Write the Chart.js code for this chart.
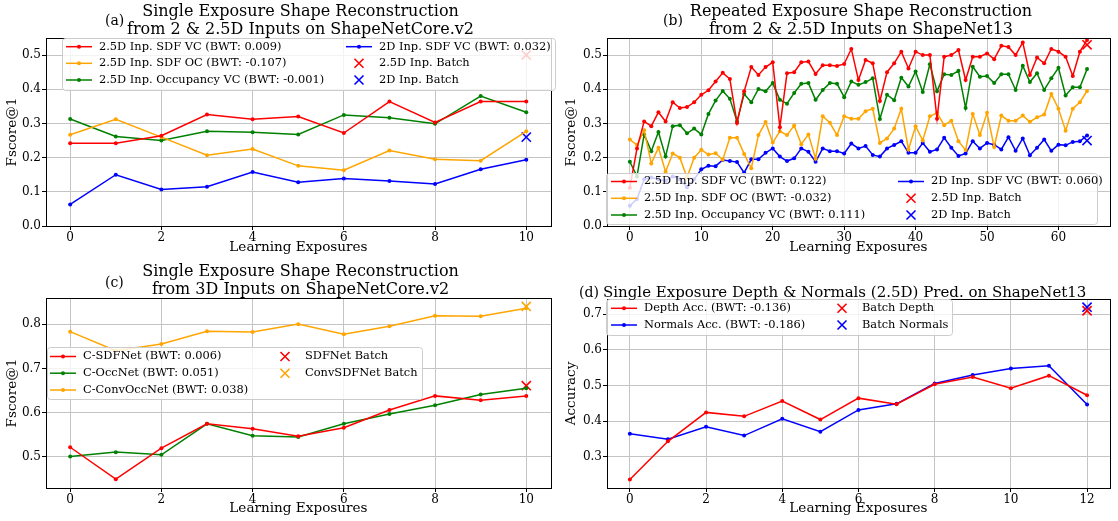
<!DOCTYPE html>
<html>
<head>
<meta charset="utf-8">
<script src="https://cdn.jsdelivr.net/npm/chart.js@4.4.1/dist/chart.umd.min.js"></script>
<style>
  body { margin: 0; background: #fff; width: 1118px; height: 521px; position: relative; overflow: hidden; font-family: "DejaVu Serif", serif; }
  canvas { position: absolute; }
  .t { position: absolute; font-size: 16px; line-height: 18px; text-align: center; color: #000; white-space: nowrap; }
  .p { position: absolute; font-size: 14px; line-height: 16px; color: #000; white-space: nowrap; }
</style>
</head>
<body>
<canvas id="ca" width="559" height="260" style="left:0;top:0"></canvas>
<canvas id="cb" width="559" height="260" style="left:559px;top:0"></canvas>
<canvas id="cc" width="559" height="261" style="left:0;top:260px"></canvas>
<canvas id="cd" width="559" height="261" style="left:559px;top:260px"></canvas>

<div class="t" style="left:0;width:601px;top:2px">Single Exposure Shape Reconstruction<br>from 2 &amp; 2.5D Inputs on ShapeNetCore.v2</div>
<div class="p" style="left:105px;top:12px">(a)</div>
<div class="t" style="left:561px;width:600px;top:2px">Repeated Exposure Shape Reconstruction<br>from 2 &amp; 2.5D Inputs on ShapeNet13</div>
<div class="p" style="left:663px;top:12px">(b)</div>
<div class="t" style="left:0;width:601px;top:262px">Single Exposure Shape Reconstruction<br>from 3D Inputs on ShapeNetCore.v2</div>
<div class="p" style="left:105px;top:274px">(c)</div>
<div class="t" style="left:603px;top:283px;font-size:15px;text-align:left">Single Exposure Depth &amp; Normals (2.5D) Pred. on ShapeNet13</div>
<div class="p" style="left:579px;top:284px">(d)</div>

<script>
// (a) single exposure, 2 & 2.5D inputs
const exposuresA = [0, 1, 2, 3, 4, 5, 6, 7, 8, 9, 10];
const a25SdfVc = [0.242, 0.242, 0.264, 0.326, 0.312, 0.320, 0.272, 0.364, 0.303, 0.364, 0.364];
const a25SdfOc = [0.267, 0.312, 0.260, 0.207, 0.225, 0.176, 0.163, 0.221, 0.195, 0.191, 0.277];
const a25OccVc = [0.313, 0.262, 0.250, 0.277, 0.274, 0.268, 0.325, 0.317, 0.299, 0.380, 0.333];
const a2dSdfVc = [0.063, 0.150, 0.107, 0.115, 0.158, 0.128, 0.139, 0.132, 0.123, 0.166, 0.194];
const aBatch25 = 0.50;
const aBatch2d = 0.26;
const xTicksA = [0, 2, 4, 6, 8, 10];
const yTicksA = [0.0, 0.1, 0.2, 0.3, 0.4, 0.5];

// (b) repeated exposure, ShapeNet13
const exposuresB = [0, 1, 2, 3, 4, 5, 6, 7, 8, 9, 10, 11, 12, 13, 14, 15, 16, 17, 18, 19, 20, 21, 22, 23, 24, 25, 26, 27, 28, 29, 30, 31, 32,
  33, 34, 35, 36, 37, 38, 39, 40, 41, 42, 43, 44, 45, 46, 47, 48, 49, 50, 51, 52, 53, 54, 55, 56, 57, 58, 59, 60, 61, 62, 63, 64];
const b25SdfVc = [0.112, 0.227, 0.306, 0.292, 0.333, 0.306, 0.362, 0.345, 0.348, 0.362,
  0.384, 0.397, 0.423, 0.448, 0.430, 0.301, 0.394, 0.465, 0.442, 0.465,
  0.479, 0.289, 0.447, 0.450, 0.479, 0.481, 0.445, 0.470, 0.470, 0.468,
  0.474, 0.518, 0.427, 0.486, 0.476, 0.366, 0.450, 0.476, 0.510, 0.461,
  0.510, 0.500, 0.500, 0.314, 0.495, 0.500, 0.515, 0.427, 0.495, 0.495,
  0.505, 0.488, 0.527, 0.524, 0.500, 0.537, 0.442, 0.493, 0.476, 0.518,
  0.510, 0.495, 0.439, 0.510, 0.544];
const b25SdfOc = [0.253, 0.237, 0.280, 0.183, 0.229, 0.159, 0.212, 0.200, 0.142, 0.200,
  0.223, 0.209, 0.213, 0.194, 0.258, 0.258, 0.211, 0.169, 0.266, 0.304,
  0.244, 0.277, 0.266, 0.294, 0.239, 0.268, 0.197, 0.321, 0.302, 0.266,
  0.321, 0.314, 0.314, 0.336, 0.343, 0.243, 0.256, 0.285, 0.343, 0.224,
  0.292, 0.250, 0.321, 0.331, 0.295, 0.308, 0.248, 0.222, 0.328, 0.266,
  0.331, 0.231, 0.323, 0.308, 0.308, 0.323, 0.305, 0.318, 0.326, 0.386,
  0.343, 0.279, 0.343, 0.362, 0.395];
const b25OccVc = [0.188, 0.145, 0.268, 0.219, 0.275, 0.203, 0.292, 0.295, 0.271, 0.285,
  0.268, 0.328, 0.367, 0.395, 0.372, 0.306, 0.386, 0.362, 0.401, 0.394,
  0.418, 0.369, 0.358, 0.389, 0.416, 0.418, 0.369, 0.398, 0.418, 0.416,
  0.377, 0.423, 0.413, 0.421, 0.432, 0.313, 0.384, 0.368, 0.434, 0.408,
  0.452, 0.392, 0.473, 0.394, 0.444, 0.442, 0.454, 0.345, 0.466, 0.437,
  0.439, 0.418, 0.444, 0.444, 0.398, 0.469, 0.421, 0.447, 0.398, 0.432,
  0.463, 0.382, 0.406, 0.406, 0.459];
const b2dSdfVc = [0.059, 0.079, 0.137, 0.142, 0.137, 0.132, 0.145, 0.137, 0.113, 0.137,
  0.166, 0.176, 0.175, 0.193, 0.190, 0.187, 0.156, 0.195, 0.195, 0.214,
  0.227, 0.203, 0.190, 0.198, 0.227, 0.217, 0.188, 0.227, 0.219, 0.219,
  0.212, 0.241, 0.227, 0.234, 0.208, 0.203, 0.227, 0.237, 0.248, 0.214,
  0.214, 0.243, 0.217, 0.224, 0.258, 0.229, 0.205, 0.212, 0.248, 0.227,
  0.243, 0.238, 0.224, 0.260, 0.220, 0.256, 0.207, 0.229, 0.253, 0.220,
  0.238, 0.236, 0.246, 0.248, 0.265];
const bBatch25 = 0.53;
const bBatch2d = 0.25;
const xTicksB = [0, 10, 20, 30, 40, 50, 60];

// (c) single exposure, 3D inputs
const cSdfNet = [0.522, 0.450, 0.520, 0.575, 0.564, 0.547, 0.566, 0.606, 0.638, 0.628, 0.638];
const cOccNet = [0.501, 0.511, 0.505, 0.575, 0.548, 0.545, 0.575, 0.597, 0.617, 0.641, 0.655];
const cConvOccNet = [0.783, 0.740, 0.755, 0.784, 0.782, 0.800, 0.777, 0.795, 0.819, 0.818, 0.836];
const cBatchSdf = 0.661;
const cBatchConv = 0.840;
const yTicksC = [0.5, 0.6, 0.7, 0.8];

// (d) depth & normals prediction
const exposuresD = [0, 1, 2, 3, 4, 5, 6, 7, 8, 9, 10, 11, 12];
const dDepth = [0.237, 0.344, 0.425, 0.414, 0.457, 0.405, 0.465, 0.448, 0.504, 0.524, 0.493, 0.528, 0.473];
const dNormals = [0.365, 0.350, 0.385, 0.360, 0.407, 0.371, 0.432, 0.449, 0.506, 0.530, 0.548, 0.556, 0.447];
const dBatchDepth = 0.71;
const dBatchNormals = 0.72;
const xTicksD = [0, 2, 4, 6, 8, 10, 12];
const yTicksD = [0.3, 0.4, 0.5, 0.6, 0.7];

const SERIF = "'DejaVu Serif', serif";
Chart.defaults.font.family = SERIF;
Chart.defaults.color = "#000";

function line(label, xs, ys, color) {
  return {
    label, borderColor: color, backgroundColor: color,
    data: xs.map((x, i) => ({ x, y: ys[i] })),
    borderWidth: 1.5, pointRadius: 2, pointHoverRadius: 2, pointBorderWidth: 0, tension: 0
  };
}
function batch(label, x, y, color) {
  return {
    label, borderColor: color, backgroundColor: color, data: [{ x, y }],
    showLine: false, pointStyle: "crossRot", pointRadius: 6.5, pointHoverRadius: 6.5, pointBorderWidth: 1.6
  };
}

// box round the axes + matplotlib-like legend inside the plot
const framePlugin = {
  id: "frame",
  afterDatasetsDraw(chart) {
    const { ctx, chartArea: a } = chart;
    ctx.save();
    ctx.strokeStyle = "#000";
    ctx.lineWidth = 1;
    ctx.strokeRect(Math.round(a.left) + 0.5, Math.round(a.top) + 0.5, Math.round(a.right - a.left), Math.round(a.bottom - a.top));
    ctx.restore();
  },
  afterDraw(chart, args, opts) {
    if (!opts.box) return;
    const ctx = chart.ctx;
    const [bx, by, bw, bh] = opts.box;
    ctx.save();
    ctx.beginPath();
    ctx.roundRect(bx + 0.5, by + 0.5, bw, bh, 3);
    ctx.fillStyle = "rgba(255,255,255,0.8)";
    ctx.fill();
    ctx.strokeStyle = "#cccccc";
    ctx.lineWidth = 1;
    ctx.stroke();
    ctx.font = "11.4px " + SERIF;
    ctx.textBaseline = "middle";
    opts.cols.forEach((col, ci) => {
      const sx = opts.colX[ci];
      col.forEach((di, ri) => {
        const ds = chart.data.datasets[di];
        const y = opts.rows[ri];
        ctx.strokeStyle = ds.borderColor;
        ctx.fillStyle = ds.borderColor;
        if (ds.showLine === false) {
          ctx.lineWidth = 1.6;
          ctx.beginPath();
          ctx.moveTo(sx + 13 - 4.5, y - 4.5); ctx.lineTo(sx + 13 + 4.5, y + 4.5);
          ctx.moveTo(sx + 13 - 4.5, y + 4.5); ctx.lineTo(sx + 13 + 4.5, y - 4.5);
          ctx.stroke();
        } else {
          ctx.lineWidth = 1.5;
          ctx.beginPath();
          ctx.moveTo(sx, y); ctx.lineTo(sx + 26, y);
          ctx.stroke();
          ctx.beginPath();
          ctx.arc(sx + 13, y, 2, 0, Math.PI * 2);
          ctx.fill();
        }
        ctx.fillStyle = "#000";
        ctx.fillText(ds.label, sx + 33, y);
      });
    });
    ctx.restore();
  }
};

function makeChart(id, p) {
  return new Chart(document.getElementById(id), {
    type: "line",
    data: { datasets: p.datasets },
    plugins: [framePlugin],
    options: {
      responsive: false,
      animation: false,
      devicePixelRatio: 1,
      layout: { padding: { top: p.top, right: p.right, left: 0, bottom: 0 } },
      plugins: { legend: { display: false }, tooltip: { enabled: false }, frame: p.legend },
      scales: {
        x: {
          type: "linear", min: p.xr[0], max: p.xr[1],
          afterFit: s => { s.height = p.xh; },
          afterBuildTicks: s => { s.ticks = p.xt.map(v => ({ value: v })); },
          ticks: { callback: v => String(v), font: { size: 12 }, color: "#000", padding: 1, maxRotation: 0 },
          grid: { color: "#c4c4c4", lineWidth: 1, tickLength: 4, tickColor: "#000" },
          border: { display: false },
          title: { display: true, text: "Learning Exposures", font: { size: 13.6 }, color: "#000", padding: { top: 0, bottom: 4 } }
        },
        y: {
          type: "linear", min: p.yr[0], max: p.yr[1],
          afterFit: s => { s.width = p.left; },
          afterBuildTicks: s => { s.ticks = p.yt.map(v => ({ value: v })); },
          ticks: { callback: v => v.toFixed(1), font: { size: 12 }, color: "#000", padding: 1 },
          grid: { color: "#c4c4c4", lineWidth: 1, tickLength: 4, tickColor: "#000" },
          border: { display: false },
          title: { display: true, text: p.ylabel, font: { size: 13.6 }, color: "#000", padding: { top: 4, bottom: 0 } }
        }
      }
    }
  });
}

makeChart("ca", {
  datasets: [
    line("2.5D Inp. SDF VC (BWT: 0.009)", exposuresA, a25SdfVc, "#ff0000"),
    line("2.5D Inp. SDF OC (BWT: -0.107)", exposuresA, a25SdfOc, "#ffa500"),
    line("2.5D Inp. Occupancy VC (BWT: -0.001)", exposuresA, a25OccVc, "#008000"),
    line("2D Inp. SDF VC (BWT: 0.032)", exposuresA, a2dSdfVc, "#0000ff"),
    batch("2.5D Inp. Batch", 10, aBatch25, "#ff0000"),
    batch("2D Inp. Batch", 10, aBatch2d, "#0000ff")
  ],
  xr: [-0.53, 10.54], yr: [0, 0.55], xt: xTicksA, yt: yTicksA, ylabel: "Fscore@1",
  top: 38, right: 4, left: 46, xh: 34,
  legend: { box: [62, 38, 493, 52], cols: [[0, 1, 2], [3, 4, 5]], colX: [66, 346], rows: [46.7, 63.3, 80] }
});

makeChart("cb", {
  datasets: [
    line("2.5D Inp. SDF VC (BWT: 0.122)", exposuresB, b25SdfVc, "#ff0000"),
    line("2.5D Inp. SDF OC (BWT: -0.032)", exposuresB, b25SdfOc, "#ffa500"),
    line("2.5D Inp. Occupancy VC (BWT: 0.111)", exposuresB, b25OccVc, "#008000"),
    line("2D Inp. SDF VC (BWT: 0.060)", exposuresB, b2dSdfVc, "#0000ff"),
    batch("2.5D Inp. Batch", 64, bBatch25, "#ff0000"),
    batch("2D Inp. Batch", 64, bBatch2d, "#0000ff")
  ],
  xr: [-3.2, 67.2], yr: [0, 0.55], xt: xTicksB, yt: yTicksA, ylabel: "Fscore@1",
  top: 38, right: 3, left: 48, xh: 34,
  legend: { box: [47, 173, 491, 51], cols: [[0, 1, 2], [3, 4, 5]], colX: [52, 339], rows: [181.5, 198.3, 215] }
});

makeChart("cc", {
  datasets: [
    line("C-SDFNet (BWT: 0.006)", exposuresA, cSdfNet, "#ff0000"),
    line("C-OccNet (BWT: 0.051)", exposuresA, cOccNet, "#008000"),
    line("C-ConvOccNet (BWT: 0.038)", exposuresA, cConvOccNet, "#ffa500"),
    batch("SDFNet Batch", 10, cBatchSdf, "#ff0000"),
    batch("ConvSDFNet Batch", 10, cBatchConv, "#ffa500")
  ],
  xr: [-0.53, 10.54], yr: [0.43, 0.859], xt: xTicksA, yt: yTicksC, ylabel: "Fscore@1",
  top: 38, right: 4, left: 46, xh: 33,
  legend: { box: [47, 87, 375, 52], cols: [[0, 1, 2], [3, 4]], colX: [50, 272], rows: [96.5, 113.2, 130] }
});

makeChart("cd", {
  datasets: [
    line("Depth Acc. (BWT: -0.136)", exposuresD, dDepth, "#ff0000"),
    line("Normals Acc. (BWT: -0.186)", exposuresD, dNormals, "#0000ff"),
    batch("Batch Depth", 12, dBatchDepth, "#ff0000"),
    batch("Batch Normals", 12, dBatchNormals, "#0000ff")
  ],
  xr: [-0.6, 12.6], yr: [0.213, 0.743], xt: xTicksD, yt: yTicksD, ylabel: "Accuracy",
  top: 39, right: 3, left: 48, xh: 33,
  legend: { box: [47, 39, 346, 36], cols: [[0, 1], [2, 3]], colX: [52, 270], rows: [48.3, 65] }
});
</script>
</body>
</html>
